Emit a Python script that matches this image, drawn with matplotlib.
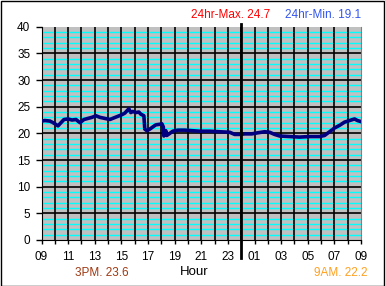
import matplotlib
matplotlib.use("Agg")
import matplotlib.pyplot as plt
from matplotlib.patches import Rectangle
import numpy as np

# hours since 09:00, temperature
hours = [0, 0.26, 0.64, 0.94, 1.24, 1.46, 1.69, 1.99, 2.29, 2.59, 2.89, 3.19,
         3.49, 3.79, 4.09, 4.39, 4.76, 5.14, 5.44, 5.74, 6.04, 6.26, 6.41, 6.56,
         6.71, 6.86, 7.09, 7.31, 7.46, 7.69, 7.76, 7.91, 8.14, 8.36, 8.59, 8.89,
         9.04, 9.15, 9.19, 9.34, 9.41, 9.64, 9.86, 10.24, 10.76, 11.29, 11.89,
         12.64, 13.39, 14.14, 14.51, 14.89, 15.26, 15.79, 16.24, 16.76, 17.14,
         17.51, 17.89, 18.64, 19.39, 20.14, 20.89, 21.26, 21.64, 22.01, 22.39,
         22.76, 23.14, 23.51, 23.74, 24.0]
temps = [22.3, 22.4, 22.3, 21.9, 21.4, 22.0, 22.6, 22.7, 22.5, 22.6, 22.0, 22.6,
         22.8, 23.0, 23.3, 23.0, 22.8, 22.6, 22.9, 23.2, 23.5, 23.8, 24.2, 24.6,
         23.9, 24.1, 23.9, 24.0, 23.6, 23.3, 20.8, 20.5, 20.8, 21.2, 21.6, 21.7,
         21.8, 21.2, 19.5, 20.5, 19.6, 20.0, 20.4, 20.6, 20.6, 20.5, 20.4,
         20.4, 20.3, 20.2, 19.8, 19.8, 19.9, 19.9, 20.1, 20.3, 20.2,
         19.8, 19.5, 19.4, 19.3, 19.4, 19.4, 19.6, 20.3, 21.0, 21.5,
         22.1, 22.4, 22.7, 22.4, 22.2]
hour_labels = ['09', '11', '13', '15', '17', '19', '21', '23',
               '01', '03', '05', '07', '09']
max_text = '24hr-Max. 24.7'
min_text = '24hr-Min. 19.1'
pm_text = '3PM. 23.6'
am_text = '9AM. 22.2'

plt.rcParams['font.family'] = ['Liberation Sans', 'DejaVu Sans']

fig = plt.figure(figsize=(3.85, 2.86), dpi=100)
fig.patch.set_facecolor('white')
ax = fig.add_axes([41.5 / 385, 46 / 286, 319.5 / 385, 213.3 / 286])
ax.set_facecolor('#c0c0c0')

ax.set_xlim(0, 24)
ax.set_ylim(0, 40)
ax.set_xticks(np.arange(0, 25, 2))
ax.set_xticklabels(hour_labels)
ax.set_xticks(np.arange(1, 24, 2), minor=True)
ax.set_yticks(np.arange(0, 41, 5))

# grid drawn by hand so the vertical black lines sit on top of the cyan ones
for v in range(1, 40):
    if v % 5:
        ax.axhline(v, color='#00ffff', linewidth=1.0, zorder=1)
    else:
        ax.axhline(v, color='black', linewidth=1.2, zorder=1.5)
for h in range(1, 24):
    ax.axvline(h, color='black', linewidth=1.2, zorder=2)

ax.tick_params(axis='y', which='major', length=4, width=1, pad=4, labelsize=8.5)
ax.tick_params(axis='x', which='both', length=3, width=1, pad=5, labelsize=8.5)

ax.spines['top'].set_visible(False)
ax.spines['right'].set_color('#808080')
ax.spines['left'].set_color('black')
ax.spines['bottom'].set_color('black')

ax.plot(hours, temps, color='#000080', linewidth=2.6, zorder=3)

# midnight marker
ax.axvline(15, ymin=-0.085, ymax=1.013, color='black', linewidth=2, clip_on=False, zorder=4)

fig.text(231 / 385, 1 - 14.7 / 286, max_text, color='#ff0000', fontsize=8.5,
         ha='center', va='center')
fig.text(361 / 385, 1 - 14.7 / 286, min_text, color='#3355ee', fontsize=8.5,
         ha='right', va='center')
fig.text(102 / 385, 1 - 273 / 286, pm_text, color='#a03810', fontsize=8.5,
         ha='center', va='center')
fig.text(194 / 385, 1 - 272 / 286, 'Hour', color='black', fontsize=9.5,
         ha='center', va='center')
fig.text(367 / 385, 1 - 273 / 286, am_text, color='#ffa020', fontsize=8.5,
         ha='right', va='center')

fig.patches.append(Rectangle((0.5 / 385, 0.5 / 286), 383.5 / 385, 284.5 / 286,
                             transform=fig.transFigure, fill=False,
                             edgecolor='black', linewidth=1))

fig.savefig('out.png', dpi=100)
